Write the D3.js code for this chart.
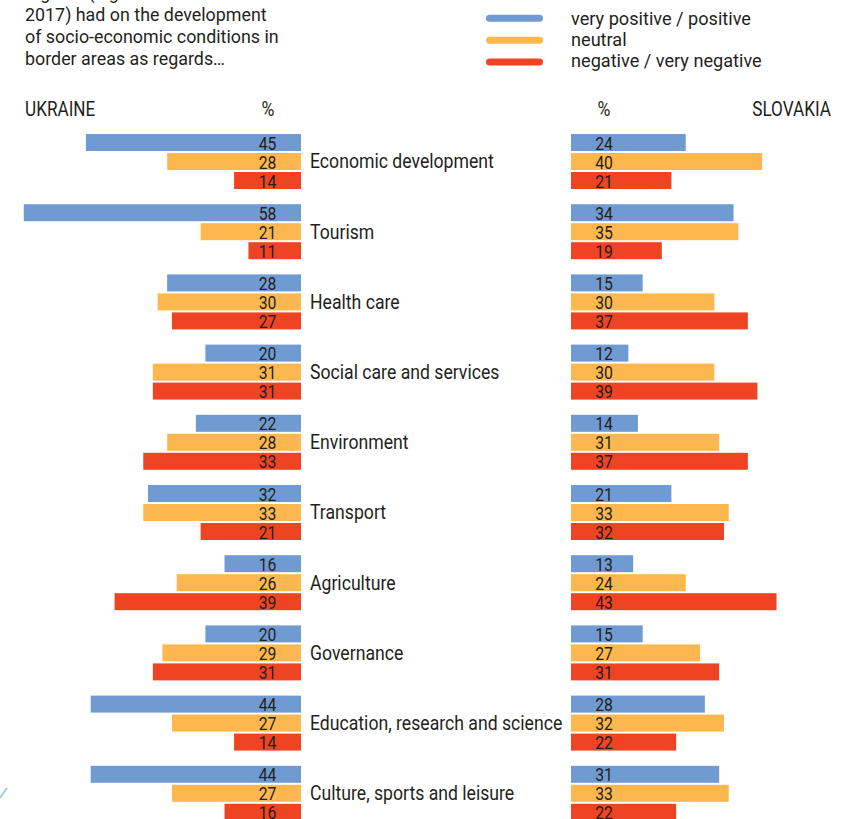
<!DOCTYPE html>
<html>
<head>
<meta charset="utf-8">
<script src="https://cdn.jsdelivr.net/npm/d3@7"></script>
<style>
  html, body { margin: 0; padding: 0; background: #fff; }
  svg { display: block; }
  text { font-family: "Roboto", "Liberation Sans", sans-serif; fill: #231f20; }
</style>
</head>
<body>
<svg id="chart" width="854" height="819"></svg>
<script>
// Survey topics, top to bottom
const categories = [
  "Economic development",
  "Tourism",
  "Health care",
  "Social care and services",
  "Environment",
  "Transport",
  "Agriculture",
  "Governance",
  "Education, research and science",
  "Culture, sports and leisure"
];

const seriesKeys = ["positive", "neutral", "negative"];
const seriesLabels = ["very positive / positive", "neutral", "negative / very negative"];
const seriesColors = ["#6f9bd2", "#fcb84f", "#ef4424"];

// Shares of respondents, %
const ukrainePositive = [45, 58, 28, 20, 22, 32, 16, 20, 44, 44];
const ukraineNeutral  = [28, 21, 30, 31, 28, 33, 26, 29, 27, 27];
const ukraineNegative = [14, 11, 27, 31, 33, 21, 39, 31, 14, 16];

const slovakiaPositive = [24, 34, 15, 12, 14, 21, 13, 15, 28, 31];
const slovakiaNeutral  = [40, 35, 30, 30, 31, 33, 24, 27, 32, 33];
const slovakiaNegative = [21, 19, 37, 39, 37, 32, 43, 31, 22, 22];

const introLines = [
  "regions (e.g. 2014\u2013",
  "2017) had on the development",
  "of socio-economic conditions in",
  "border areas as regards\u2026"
];

const ukraine = [ukrainePositive, ukraineNeutral, ukraineNegative];
const slovakia = [slovakiaPositive, slovakiaNeutral, slovakiaNegative];

const svg = d3.select("#chart");

// Narrow the type horizontally to get a condensed face
function condense(sel, factor) {
  sel.each(function () {
    const w = this.getComputedTextLength();
    d3.select(this)
      .attr("textLength", w * factor)
      .attr("lengthAdjust", "spacingAndGlyphs");
  });
  return sel;
}

// Introductory text
svg.append("g").selectAll("text")
  .data(introLines)
  .join("text")
  .attr("x", 25)
  .attr("y", (d, i) => -1.3 + i * 22)
  .attr("font-size", 18.5)
  .text(d => d)
  .call(condense, 0.965);

// Legend
const legend = svg.append("g");
seriesLabels.forEach((lab, i) => {
  legend.append("line")
    .attr("x1", 489.5).attr("x2", 539.5)
    .attr("y1", 18.3 + i * 21.9).attr("y2", 18.3 + i * 21.9)
    .attr("stroke", seriesColors[i])
    .attr("stroke-width", 7)
    .attr("stroke-linecap", "round");
  legend.append("text")
    .attr("x", 571)
    .attr("y", 24.5 + i * 21)
    .attr("font-size", 18.5)
    .text(lab)
    .call(condense, 0.98);
});

// Column headers
const header = svg.append("g").attr("font-size", 19.5);
header.append("text").attr("x", 25).attr("y", 115.5).text("UKRAINE").call(condense, 0.88);
header.append("text").attr("x", 268).attr("y", 115.5).attr("text-anchor", "middle").text("%").call(condense, 0.9);
header.append("text").attr("x", 604).attr("y", 115.5).attr("text-anchor", "middle").text("%").call(condense, 0.9);
header.append("text").attr("x", 831).attr("y", 115.5).attr("text-anchor", "end").text("SLOVAKIA").call(condense, 0.88);

// Scales
const y = d3.scaleBand().domain(categories).range([134, 134 + 70.2 * categories.length]).padding(0);
const ySub = d3.scaleBand().domain(seriesKeys).range([0, 55]).paddingInner(2 / 19).paddingOuter(0);
const x = d3.scaleLinear().domain([0, 100]).range([0, 478]);

const leftAxisX = 301;
const rightAxisX = 571;

function rows(values) {
  const out = [];
  categories.forEach((c, ci) => {
    seriesKeys.forEach((k, si) => {
      out.push({ cat: c, key: k, color: seriesColors[si], value: values[si][ci] });
    });
  });
  return out;
}

// Ukraine bars grow leftwards
const left = svg.append("g");
const leftRows = rows(ukraine);
left.selectAll("rect")
  .data(leftRows)
  .join("rect")
  .attr("x", d => leftAxisX - x(d.value))
  .attr("y", d => y(d.cat) + ySub(d.key))
  .attr("width", d => x(d.value))
  .attr("height", ySub.bandwidth())
  .attr("fill", d => d.color);
left.selectAll("text")
  .data(leftRows)
  .join("text")
  .attr("x", 267.5)
  .attr("y", d => y(d.cat) + ySub(d.key) + 15.5)
  .attr("text-anchor", "middle")
  .attr("font-size", 17.5)
  .text(d => d.value)
  .call(condense, 0.9);

// Slovakia bars grow rightwards
const right = svg.append("g");
const rightRows = rows(slovakia);
right.selectAll("rect")
  .data(rightRows)
  .join("rect")
  .attr("x", rightAxisX)
  .attr("y", d => y(d.cat) + ySub(d.key))
  .attr("width", d => x(d.value))
  .attr("height", ySub.bandwidth())
  .attr("fill", d => d.color);
right.selectAll("text")
  .data(rightRows)
  .join("text")
  .attr("x", 604)
  .attr("y", d => y(d.cat) + ySub(d.key) + 15.5)
  .attr("text-anchor", "middle")
  .attr("font-size", 17.5)
  .text(d => d.value)
  .call(condense, 0.9);

// Topic labels in the middle
svg.append("g").selectAll("text")
  .data(categories)
  .join("text")
  .attr("x", 310)
  .attr("y", d => y(d) + ySub("neutral") + 15.3)
  .attr("font-size", 20.5)
  .text(d => d)
  .call(condense, 0.86);

// Small decorative stroke at the lower left edge
svg.append("line")
  .attr("x1", 0).attr("y1", 798)
  .attr("x2", 7).attr("y2", 788)
  .attr("stroke", "#a9c9df")
  .attr("stroke-width", 2);
</script>
</body>
</html>
